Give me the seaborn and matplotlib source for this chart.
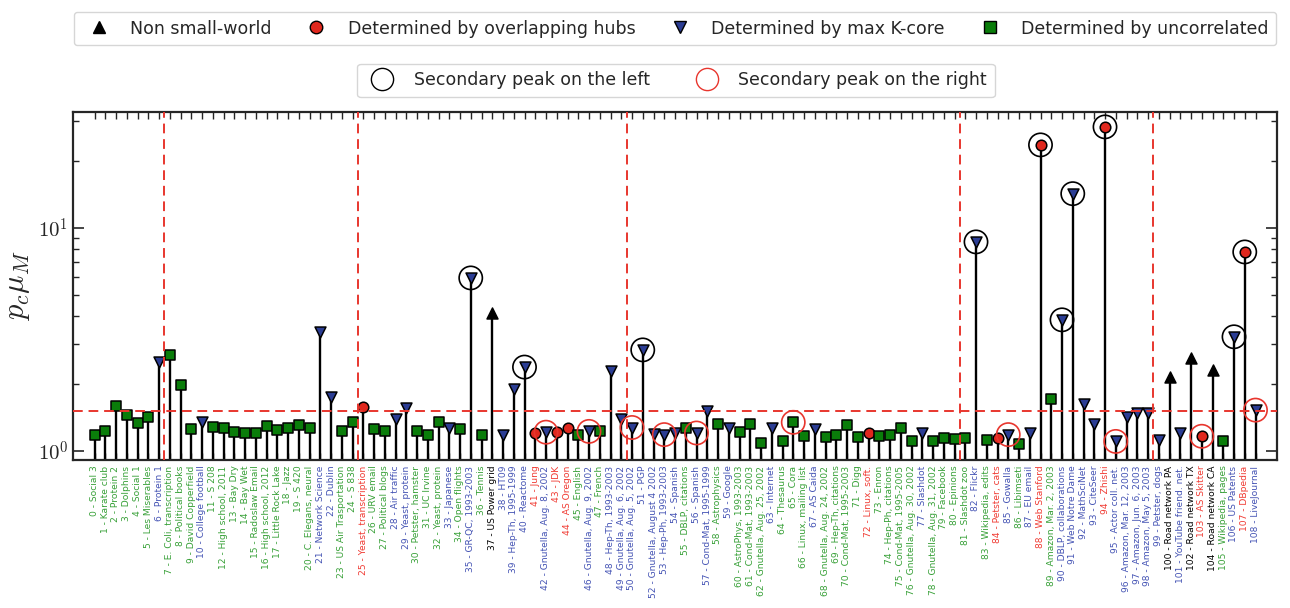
import numpy as np
import pandas as pd
import matplotlib
matplotlib.use('Agg')
import matplotlib.pyplot as plt
import seaborn as sns
from matplotlib.lines import Line2D
from matplotlib.ticker import LogLocator, NullFormatter

# network names, in index order
names = [
    "Social 3", "Karate club", "Protein 2", "Dolphins", "Social 1", "Les Miserables", "Protein 1",
    "E. Coli, transcription", "Political books", "David Copperfield",
    "College football", "S 208", "High school, 2011", "Bay Dry", "Bay Wet", "Radoslaw Email",
    "High school, 2012", "Little Rock Lake", "Jazz", "S 420",
    "C. Elegans, neural", "Network Science", "Dublin", "US Air Trasportation", "S 838",
    "Yeast, transcription", "URV email", "Political blogs", "Air traffic", "Yeast, protein",
    "Petster, hamster", "UC Irvine", "Yeast, protein", "Japanese", "Open flights", "GR-QC, 1993-2003",
    "Tennis", "US Power grid", "HT09", "Hep-Th, 1995-1999",
    "Reactome", "Jung", "Gnutella, Aug. 8, 2002", "JDK", "AS Oregon", "English", "Gnutella, Aug. 9, 2002",
    "French", "Hep-Th, 1993-2003", "Gnutella, Aug. 6, 2002",
    "Gnutella, Aug. 5, 2002", "PGP", "Gnutella, August 4 2002", "Hep-Ph, 1993-2003", "Spanish",
    "DBLP, citations", "Spanish", "Cond-Mat, 1995-1999", "Astrophysics", "Google",
    "AstroPhys, 1993-2003", "Cond-Mat, 1993-2003", "Gnutella, Aug. 25, 2002", "Internet", "Thesaurus",
    "Cora", "Linux, mailing list", "AS Caida", "Gnutella, Aug. 24, 2002", "Hep-Th, citations",
    "Cond-Mat, 1995-2003", "Digg", "Linux, soft.", "Enron", "Hep-Ph, citations", "Cond-Mat, 1995-2005",
    "Gnutella, Aug. 30, 2002", "Slashdot", "Gnutella, Aug. 31, 2002", "Facebook",
    "Epinions", "Slashdot zoo", "Flickr", "Wikipedia, edits", "Petster, cats", "Gowalla", "Libimseti",
    "EU email", "Web Stanford", "Amazon, Mar. 2, 2003",
    "DBLP, collaborations", "Web Notre Dame", "MathSciNet", "CiteSeer", "Zhishi", "Actor coll. net.",
    "Amazon, Mar. 12, 2003", "Amazon, Jun. 6, 2003", "Amazon, May 5, 2003", "Petster, dogs",
    "Road network PA", "YouTube friend. net.", "Road network TX", "AS Skitter", "Road network CA",
    "Wikipedia, pages", "US Patents", "DBpedia", "LiveJournal",
]

# U = uncorrelated, K = max K-core, H = overlapping hubs, N = non small-world
kinds = [
    'U', 'U', 'U', 'U', 'U', 'U', 'K', 'U', 'U', 'U',
    'K', 'U', 'U', 'U', 'U', 'U', 'U', 'U', 'U', 'U',
    'U', 'K', 'K', 'U', 'U', 'H', 'U', 'U', 'K', 'K',
    'U', 'U', 'U', 'K', 'U', 'K', 'U', 'N', 'K', 'K',
    'K', 'H', 'K', 'H', 'H', 'U', 'K', 'U', 'K', 'K',
    'K', 'K', 'K', 'K', 'K', 'U', 'K', 'K', 'U', 'K',
    'U', 'U', 'U', 'K', 'U', 'U', 'U', 'K', 'U', 'U',
    'U', 'U', 'H', 'U', 'U', 'U', 'U', 'K', 'U', 'U',
    'U', 'U', 'K', 'U', 'H', 'K', 'U', 'K', 'H', 'U',
    'K', 'K', 'K', 'K', 'H', 'K', 'K', 'K', 'K', 'K',
    'N', 'K', 'N', 'H', 'N', 'U', 'K', 'H', 'K',
]

pc_mu = [
    1.17, 1.22, 1.58, 1.44, 1.33, 1.42, 2.50, 2.69, 1.96, 1.25,
    1.34, 1.28, 1.27, 1.21, 1.20, 1.20, 1.29, 1.24, 1.27, 1.30,
    1.26, 3.42, 1.74, 1.23, 1.34, 1.57, 1.25, 1.23, 1.38, 1.55,
    1.22, 1.18, 1.35, 1.26, 1.25, 5.95, 1.18, 4.14, 1.18, 1.89,
    2.37, 1.20, 1.21, 1.21, 1.26, 1.18, 1.22, 1.22, 2.28, 1.38,
    1.27, 2.83, 1.19, 1.18, 1.20, 1.26, 1.20, 1.51, 1.31, 1.26,
    1.21, 1.31, 1.08, 1.27, 1.10, 1.34, 1.16, 1.25, 1.15, 1.18,
    1.30, 1.15, 1.20, 1.16, 1.17, 1.27, 1.11, 1.20, 1.10, 1.14,
    1.13, 1.14, 8.63, 1.12, 1.14, 1.18, 1.07, 1.20, 23.5, 1.70,
    3.86, 14.2, 1.62, 1.31, 28.3, 1.10, 1.42, 1.47, 1.47, 1.12,
    2.15, 1.20, 2.61, 1.16, 2.30, 1.11, 3.24, 7.78, 1.52,
]

left_peak = [35, 40, 51, 82, 88, 90, 91, 94, 106, 107]
right_peak = [42, 46, 50, 53, 56, 65, 85, 95, 103, 108]
group_splits = [6.5, 24.5, 49.5, 80.5, 98.5]
threshold = 1.5

df = pd.DataFrame({'idx': np.arange(len(names)), 'name': names, 'kind': kinds, 'value': pc_mu})

styles = {
    'N': dict(marker='^', color='black', s=62, label='Non small-world'),
    'H': dict(marker='o', color='#e0281e', s=58, label='Determined by overlapping hubs'),
    'K': dict(marker='v', color='#2b3d94', s=62, label='Determined by max K-core'),
    'U': dict(marker='s', color='#0a7d0a', s=55, label='Determined by uncorrelated'),
}
label_colors = {'N': 'black', 'H': '#f03a32', 'K': '#4453b4', 'U': '#37a037'}
dash_red = '#e8362e'

sns.set_style('ticks')
plt.rcParams['font.family'] = ['DejaVu Sans']
plt.rcParams['mathtext.fontset'] = 'cm'

fig = plt.figure(figsize=(12.9, 6.08), dpi=100)
ax = fig.add_axes([73 / 1290, 1 - 460 / 608, 1204 / 1290, 348 / 608])
ax.set_yscale('log')

# stems
ax.vlines(df['idx'], 0.5, df['value'], color='black', lw=1.7, zorder=1)

for k, st in styles.items():
    sub = df[df['kind'] == k]
    sns.scatterplot(data=sub, x='idx', y='value', marker=st['marker'], color=st['color'],
                    s=st['s'], edgecolor='black', linewidth=1.1, ax=ax, zorder=3, legend=False)

# secondary peak rings
lp = df.loc[left_peak]
rp = df.loc[right_peak]
ax.scatter(lp['idx'], lp['value'], s=280, facecolors='none', edgecolors='black', linewidths=1.2, zorder=5)
ax.scatter(rp['idx'], rp['value'], s=280, facecolors='none', edgecolors=dash_red, linewidths=1.2, zorder=5)

ax.axhline(threshold, color=dash_red, ls=(0, (5, 3)), lw=1.4, zorder=4)
for xs in group_splits:
    ax.axvline(xs, color=dash_red, ls=(0, (5, 3)), lw=1.4, zorder=4)

ax.set_xlim(-2, 110)
ax.set_ylim(0.908, 33)
ax.set_xlabel('')
ax.set_ylabel(r'$p_c\mu_M$', fontsize=22, labelpad=4)

ax.set_xticks(df['idx'])
ax.set_xticklabels([f'{i} - {n}' for i, n in zip(df['idx'], df['name'])], rotation=90, fontsize=6.6)
for lbl, k in zip(ax.get_xticklabels(), kinds):
    lbl.set_color(label_colors[k])
ax.tick_params(axis='x', which='both', direction='in', top=True, bottom=True, length=5, width=1, pad=4)

ax.set_yticks([1, 10])
ax.set_yticklabels([r'$10^0$', r'$10^1$'], fontsize=15)
ax.yaxis.set_minor_locator(LogLocator(base=10, subs=np.arange(2, 10)))
ax.yaxis.set_minor_formatter(NullFormatter())
ax.tick_params(axis='y', which='major', direction='in', left=True, right=True, length=8, width=1.2)
ax.tick_params(axis='y', which='minor', direction='in', left=True, right=True, length=4, width=1)
for sp in ax.spines.values():
    sp.set_linewidth(1.6)
    sp.set_visible(True)

h1 = [Line2D([], [], ls='none', marker=styles[k]['marker'], markerfacecolor=styles[k]['color'],
             markeredgecolor='black', markersize=9) for k in ['N', 'H', 'K', 'U']]
fig.legend(h1, [styles[k]['label'] for k in ['N', 'H', 'K', 'U']], loc='upper left',
           bbox_to_anchor=(65 / 1290, 0.93, 1220 / 1290, 0.065), mode='expand', ncol=4,
           fontsize=12.5, frameon=True, fancybox=True, edgecolor='0.8', handletextpad=0.8,
           borderpad=0.45)

h2 = [Line2D([], [], ls='none', marker='o', markerfacecolor='none', markeredgecolor=c,
             markersize=16, markeredgewidth=1.0) for c in ['black', dash_red]]
fig.legend(h2, ['Secondary peak on the left', 'Secondary peak on the right'], loc='upper center',
           bbox_to_anchor=(676 / 1290, 1 - 55 / 608), ncol=2, fontsize=12.5, frameon=True,
           fancybox=True, edgecolor='0.8', columnspacing=2.3, handletextpad=0.8, borderpad=0.45)

fig.savefig('out.png', dpi=100)
